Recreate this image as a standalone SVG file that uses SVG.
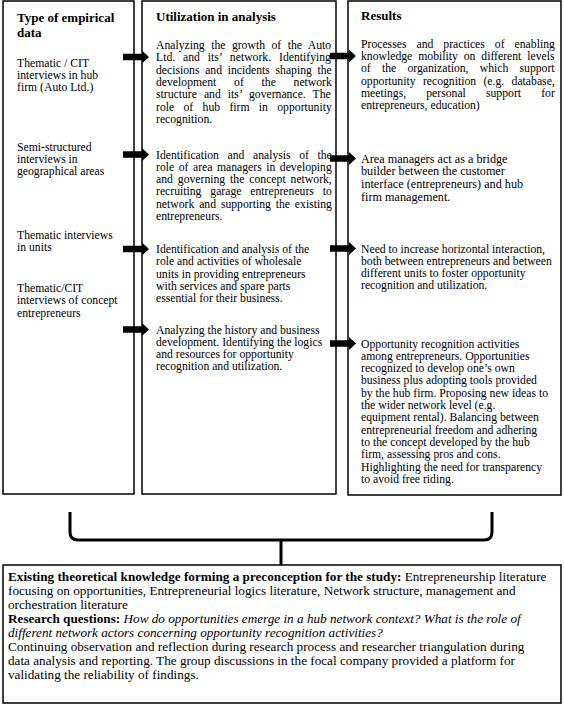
<svg xmlns="http://www.w3.org/2000/svg" width="564" height="705" viewBox="0 0 564 705">
<style>
text { font-family: "Liberation Serif", "Times New Roman", serif; font-size: 11.7px; fill: #000; }
.h { font-weight: bold; font-size: 13px; }
.big { font-size: 12.2px; }
.bot { font-size: 13.2px; }
.bold { font-weight: bold; }
.it { font-style: italic; }
.box { fill: #fff; stroke: #000; stroke-width: 1.5; }
.arr { fill: #000; }
.br { fill: none; stroke: #000; stroke-width: 3; }
</style>
<defs>
<path id="arrow" class="arr" d="M0,-3.2 H19 V-6.5 L26,0 L19,6.5 V3.2 H0 Z"/>
</defs>
<rect width="564" height="705" fill="#fff"/>

<g id="type-of-data">
<rect class="box" x="3" y="1" width="131" height="493"/>
<text class="h" x="17" y="22">Type of empirical</text>
<text class="h" x="17" y="37">data</text>
<text x="17" y="66.5">Thematic / CIT</text>
<text x="17" y="79">interviews in hub</text>
<text x="17" y="91.3">firm (Auto Ltd.)</text>
<text x="17" y="150.8">Semi-structured</text>
<text x="17" y="163.1">interviews in</text>
<text x="17" y="175.4">geographical areas</text>
<text x="17" y="239">Thematic interviews</text>
<text x="17" y="251.3">in units</text>
<text x="17" y="292">Thematic/CIT</text>
<text x="17" y="304.3">interviews of concept</text>
<text x="17" y="316.6">entrepreneurs</text>
</g>

<g id="utilization">
<rect class="box" x="142" y="1" width="194" height="493"/>
<text class="h" x="156" y="21">Utilization in analysis</text>
<text x="156" y="49" word-spacing="3.54">Analyzing the growth of the Auto</text>
<text x="156" y="61.3" word-spacing="5">Ltd. and its’ network. Identifying</text>
<text x="156" y="73.6" word-spacing="2.73">decisions and incidents shaping the</text>
<text x="156" y="85.9" word-spacing="14.8">development of the network</text>
<text x="156" y="98.2" word-spacing="4.12">structure and its’ governance. The</text>
<text x="156" y="110.5" word-spacing="6.4">role of hub firm in opportunity</text>
<text x="156" y="122.8">recognition.</text>
<text x="156" y="158.5" word-spacing="5.65">Identification and analysis of the</text>
<text x="156" y="170.8" word-spacing="1.6">role of area managers in developing</text>
<text x="156" y="183.1" word-spacing="2">and governing the concept network,</text>
<text x="156" y="195.4" word-spacing="5.93">recruiting garage entrepreneurs to</text>
<text x="156" y="207.7" word-spacing="1.93">network and supporting the existing</text>
<text x="156" y="220">entrepreneurs.</text>
<text x="156" y="253">Identification and analysis of the</text>
<text x="156" y="265.3">role and activities of wholesale</text>
<text x="156" y="277.6">units in providing entrepreneurs</text>
<text x="156" y="289.9">with services and spare parts</text>
<text x="156" y="302.2">essential for their business.</text>
<text x="156" y="333.5">Analyzing the history and business</text>
<text x="156" y="345.8">development. Identifying the logics</text>
<text x="156" y="358.1">and resources for opportunity</text>
<text x="156" y="370.4">recognition and utilization.</text>
</g>

<g id="results">
<rect class="box" x="348" y="1" width="213" height="494"/>
<text class="h" x="361" y="20">Results</text>
<text x="361" y="47.7" word-spacing="7.08">Processes and practices of enabling</text>
<text x="361" y="60" word-spacing="3">knowledge mobility on different levels</text>
<text x="361" y="72.3" word-spacing="8.28">of the organization, which support</text>
<text x="361" y="84.6" word-spacing="4.43">opportunity recognition (e.g. database,</text>
<text x="361" y="96.9" word-spacing="17.2">meetings, personal support for</text>
<text x="361" y="109.2">entrepreneurs, education)</text>
<text class="big" x="361" y="162.5">Area managers act as a bridge</text>
<text class="big" x="361" y="175.3">builder between the customer</text>
<text class="big" x="361" y="188.1">interface (entrepreneurs) and hub</text>
<text class="big" x="361" y="200.9">firm management.</text>
<text x="361" y="252.5">Need to increase horizontal interaction,</text>
<text x="361" y="264.8">both between entrepreneurs and between</text>
<text x="361" y="277.1">different units to foster opportunity</text>
<text x="361" y="289.4">recognition and utilization.</text>
<text x="361" y="347.5">Opportunity recognition activities</text>
<text x="361" y="359.8">among entrepreneurs. Opportunities</text>
<text x="361" y="372.1">recognized to develop one’s own</text>
<text x="361" y="384.4">business plus adopting tools provided</text>
<text x="361" y="396.7">by the hub firm. Proposing new ideas to</text>
<text x="361" y="409">the wider network level (e.g.</text>
<text x="361" y="421.3">equipment rental). Balancing between</text>
<text x="361" y="433.6">entrepreneurial freedom and adhering</text>
<text x="361" y="445.9">to the concept developed by the hub</text>
<text x="361" y="458.2">firm, assessing pros and cons.</text>
<text x="361" y="470.5">Highlighting the need for transparency</text>
<text x="361" y="482.8">to avoid free riding.</text>
</g>

<g id="preconception">
<rect class="box" x="3" y="565" width="558" height="138"/>
<text class="bot" x="8" y="581"><tspan class="bold">Existing theoretical knowledge forming a preconception for the study:</tspan> Entrepreneurship literature</text>
<text class="bot" x="8" y="595">focusing on opportunities, Entrepreneurial logics literature, Network structure, management and</text>
<text class="bot" x="8" y="609">orchestration literature</text>
<text class="bot" x="8" y="623"><tspan class="bold">Research questions:</tspan> <tspan class="it">How do opportunities emerge in a hub network context? What is the role of</tspan></text>
<text class="bot it" x="8" y="637">different network actors concerning opportunity recognition activities?</text>
<text class="bot" x="8" y="651">Continuing observation and reflection during research process and researcher triangulation during</text>
<text class="bot" x="8" y="665">data analysis and reporting. The group discussions in the focal company provided a platform for</text>
<text class="bot" x="8" y="679">validating the reliability of findings.</text>
</g>

<g id="connectors">
<use href="#arrow" x="123" y="57"/>
<use href="#arrow" x="123" y="154.5"/>
<use href="#arrow" x="123" y="249"/>
<use href="#arrow" x="123" y="329.5"/>
<use href="#arrow" x="330" y="56"/>
<use href="#arrow" x="330" y="158.5"/>
<use href="#arrow" x="330" y="248.5"/>
<use href="#arrow" x="330" y="343.5"/>
<path class="br" d="M70,512 V532 Q70,540 78,540 H484 Q492,540 492,532 V512"/>
<path class="br" d="M281,540 V565"/>
</g>
</svg>
